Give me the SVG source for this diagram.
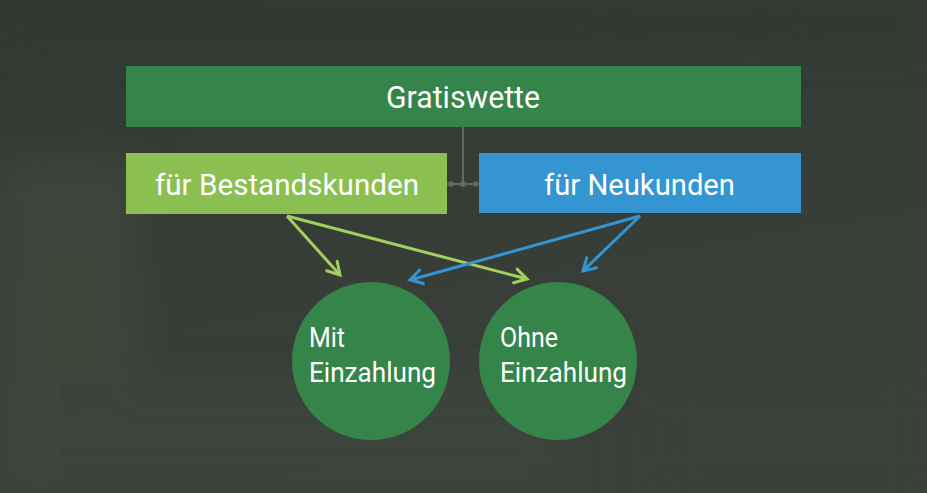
<svg xmlns="http://www.w3.org/2000/svg" width="927" height="493" viewBox="0 0 927 493">
<defs>
<style>
.lbl{font-family:Roboto,"Liberation Sans",sans-serif;fill:#ffffff}
.box-t{font-size:31px}
.box-s{font-size:29px}
.circ{font-size:28px}
.g{stroke:#a3cf5f;stroke-width:3;fill:none}
.b{stroke:#3595d3;stroke-width:3;fill:none}
</style>
<linearGradient id="bg" x1="0" y1="0" x2="0.3" y2="1">
<stop offset="0" stop-color="#333a33"/>
<stop offset="0.5" stop-color="#363d36"/>
<stop offset="1" stop-color="#3b413a"/>
</linearGradient>
<filter id="blur" x="-20%" y="-20%" width="140%" height="140%"><feGaussianBlur stdDeviation="18"/></filter>
<marker id="ag" markerUnits="userSpaceOnUse" markerWidth="20" markerHeight="20" viewBox="-16 -10 20 20" refX="0" refY="0" orient="auto">
<path d="M-12,-7 L0,0 L-12,7" stroke="#a3cf5f" stroke-width="3" fill="none" stroke-linecap="round"/>
</marker>
<marker id="ab" markerUnits="userSpaceOnUse" markerWidth="20" markerHeight="20" viewBox="-16 -10 20 20" refX="0" refY="0" orient="auto">
<path d="M-12,-7 L0,0 L-12,7" stroke="#3595d3" stroke-width="3" fill="none" stroke-linecap="round"/>
</marker>
</defs>
<g id="background">
<rect width="927" height="493" fill="url(#bg)"/>
<g filter="url(#blur)" opacity="0.8">
<rect x="0" y="160" width="140" height="330" fill="#3f473e"/>
<rect x="60" y="380" width="500" height="113" fill="#3d443c"/>
<rect x="600" y="0" width="180" height="60" fill="#3a403a"/>
<rect x="660" y="380" width="267" height="113" fill="#3a403a"/>
<rect x="0" y="0" width="927" height="50" fill="#313731"/>
</g>
</g>
<g id="connectors">
<line x1="463" y1="127" x2="463" y2="184" stroke="#666866" stroke-width="2"/>
<line x1="447" y1="184" x2="479" y2="184" stroke="#666866" stroke-width="2"/>
<circle cx="451" cy="184" r="2.7" fill="#666866"/>
<circle cx="463" cy="184" r="3" fill="#666866"/>
<circle cx="476" cy="184" r="2.7" fill="#666866"/>
<line class="g" x1="287" y1="216" x2="340" y2="275" marker-end="url(#ag)"/>
<line class="g" x1="287" y1="216" x2="527" y2="279" marker-end="url(#ag)"/>
<line class="b" x1="640" y1="216" x2="410" y2="280" marker-end="url(#ab)"/>
<line class="b" x1="640" y1="216" x2="583" y2="271" marker-end="url(#ab)"/>
</g>
<g id="gratiswette">
<rect x="126" y="66" width="675" height="61" fill="#35844a"/>
<text class="lbl box-t" x="386" y="108" textLength="154" lengthAdjust="spacingAndGlyphs">Gratiswette</text>
</g>
<g id="bestandskunden">
<rect x="126" y="153" width="321" height="61" fill="#8bbf52"/>
<text class="lbl box-s" x="155" y="195" textLength="264" lengthAdjust="spacingAndGlyphs">für Bestandskunden</text>
</g>
<g id="neukunden">
<rect x="479" y="153" width="322" height="60" fill="#3595d3"/>
<text class="lbl box-s" x="544" y="195" textLength="191" lengthAdjust="spacingAndGlyphs">für Neukunden</text>
</g>
<g id="mit">
<circle cx="371" cy="361" r="79" fill="#35844a"/>
<text class="lbl circ" x="309" y="347" textLength="36" lengthAdjust="spacingAndGlyphs">Mit</text>
<text class="lbl circ" x="309" y="382" textLength="127" lengthAdjust="spacingAndGlyphs">Einzahlung</text>
</g>
<g id="ohne">
<circle cx="558" cy="361" r="79" fill="#35844a"/>
<text class="lbl circ" x="500" y="347" textLength="58" lengthAdjust="spacingAndGlyphs">Ohne</text>
<text class="lbl circ" x="500" y="382" textLength="127" lengthAdjust="spacingAndGlyphs">Einzahlung</text>
</g>
</svg>
